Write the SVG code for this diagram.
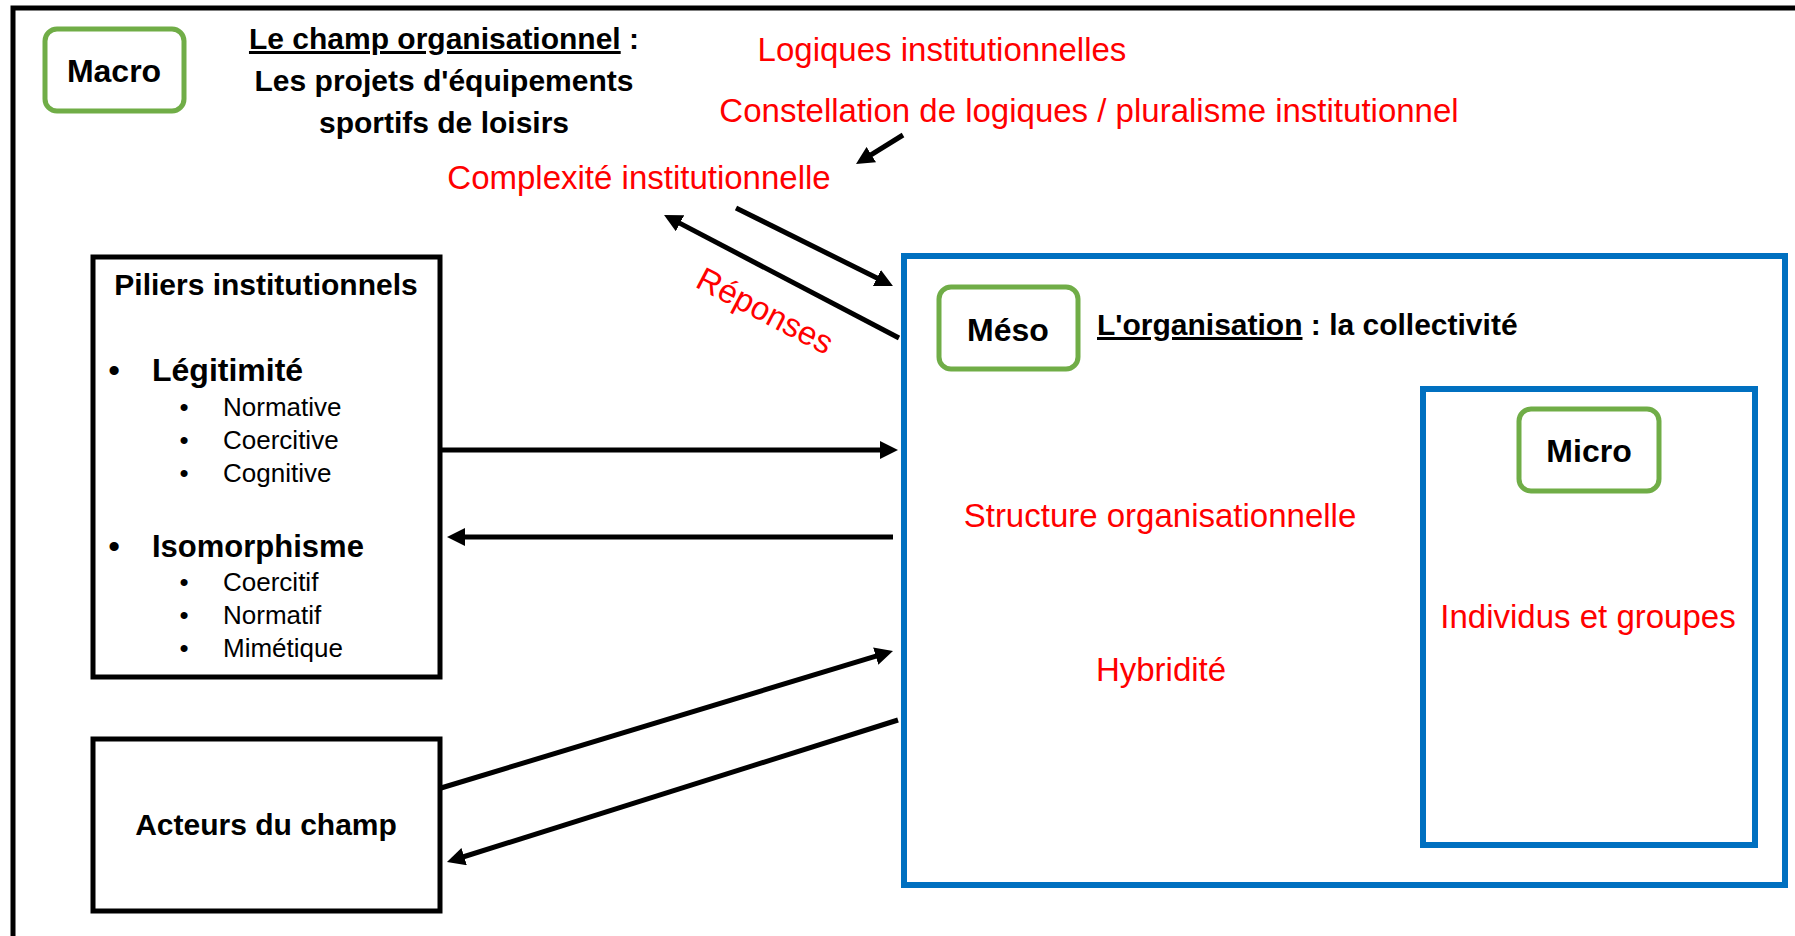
<svg xmlns="http://www.w3.org/2000/svg" width="1795" height="936" viewBox="0 0 1795 936">
<style>
text{font-family:"Liberation Sans",Arial,sans-serif}
.b{font-weight:bold;fill:#000}
.t30{font-size:30px}
.lvl{font-size:32px;font-weight:bold;fill:#000}
.red{font-size:33px;fill:#FF0000}
.sub{font-size:26px;fill:#000}
.blk{fill:none;stroke:#000;stroke-width:5}
.blue{fill:none;stroke:#0070C0;stroke-width:6}
.green{fill:#fff;stroke:#70AD47;stroke-width:5}
.arr{stroke:#000;stroke-width:5;fill:none;marker-end:url(#ah)}
</style>
<defs>
<marker id="ah" markerUnits="userSpaceOnUse" markerWidth="18" markerHeight="18" refX="8" refY="9" orient="auto">
<path d="M0,0 L18,9 L0,18 z" fill="#000"/>
</marker>
</defs>
<rect width="1795" height="936" fill="#fff"/>
<rect id="frame" x="13" y="8" width="1810" height="960" class="blk"/>

<g id="macro">
<rect x="45" y="29" width="139" height="82" rx="12" class="green"/>
<text x="114" y="82" text-anchor="middle" class="lvl">Macro</text>
</g>

<g id="champ">
<text x="444" y="49" text-anchor="middle" class="b t30"><tspan text-decoration="underline">Le champ organisationnel</tspan> :</text>
<text x="444" y="91" text-anchor="middle" class="b t30">Les projets d'équipements</text>
<text x="444" y="133" text-anchor="middle" class="b t30">sportifs de loisirs</text>
</g>

<g id="logiques">
<text x="942" y="61" text-anchor="middle" class="red">Logiques institutionnelles</text>
</g>
<g id="constellation">
<text x="1089" y="122" text-anchor="middle" class="red">Constellation de logiques / pluralisme institutionnel</text>
</g>
<g id="complexite">
<text x="639" y="189" text-anchor="middle" class="red">Complexité institutionnelle</text>
</g>

<g id="piliers">
<rect x="93" y="257" width="347" height="420" class="blk"/>
<text x="266" y="295" text-anchor="middle" class="b t30">Piliers institutionnels</text>
<text x="114" y="381" text-anchor="middle" class="b" font-size="32">•</text>
<text x="152" y="381" class="b" font-size="32">Légitimité</text>
<text x="184" y="416" text-anchor="middle" class="sub">•</text>
<text x="223" y="416" class="sub">Normative</text>
<text x="184" y="449" text-anchor="middle" class="sub">•</text>
<text x="223" y="449" class="sub">Coercitive</text>
<text x="184" y="482" text-anchor="middle" class="sub">•</text>
<text x="223" y="482" class="sub">Cognitive</text>
<text x="114" y="557" text-anchor="middle" class="b" font-size="32">•</text>
<text x="152" y="557" class="b" font-size="31">Isomorphisme</text>
<text x="184" y="591" text-anchor="middle" class="sub">•</text>
<text x="223" y="591" class="sub">Coercitif</text>
<text x="184" y="624" text-anchor="middle" class="sub">•</text>
<text x="223" y="624" class="sub">Normatif</text>
<text x="184" y="657" text-anchor="middle" class="sub">•</text>
<text x="223" y="657" class="sub">Mimétique</text>
</g>

<g id="acteurs">
<rect x="93" y="739" width="347" height="172" class="blk"/>
<text x="266" y="835" text-anchor="middle" class="b t30">Acteurs du champ</text>
</g>

<g id="organisation">
<rect x="904" y="256" width="881" height="629" class="blue"/>
<text x="1097" y="335" class="b t30"><tspan text-decoration="underline">L'organisation</tspan> : la collectivité</text>
<text x="1160" y="527" text-anchor="middle" class="red">Structure organisationnelle</text>
<text x="1161" y="681" text-anchor="middle" class="red">Hybridité</text>
</g>

<g id="meso">
<rect x="939" y="287" width="139" height="82" rx="12" class="green"/>
<text x="1008" y="341" text-anchor="middle" class="lvl">Méso</text>
</g>

<g id="individus">
<rect x="1423" y="389" width="332" height="456" class="blue"/>
<text x="1588" y="628" text-anchor="middle" class="red">Individus et groupes</text>
</g>

<g id="micro">
<rect x="1519" y="409" width="140" height="82" rx="12" class="green"/>
<text x="1589" y="462" text-anchor="middle" class="lvl">Micro</text>
</g>

<g id="connectors">
<line x1="903" y1="135" x2="864.5" y2="158.8" class="arr"/>
<line x1="736" y1="208" x2="884" y2="281.5" class="arr"/>
<line x1="899" y1="338" x2="672.9" y2="219.6" class="arr"/>
<line x1="441" y1="450" x2="888" y2="450" class="arr"/>
<line x1="893" y1="537" x2="457" y2="537" class="arr"/>
<line x1="441" y1="788" x2="883.4" y2="653.9" class="arr"/>
<line x1="898" y1="720" x2="456.5" y2="859" class="arr"/>
<text transform="translate(765,311) rotate(27.6)" x="0" y="11" text-anchor="middle" class="red">Réponses</text>
</g>
</svg>
